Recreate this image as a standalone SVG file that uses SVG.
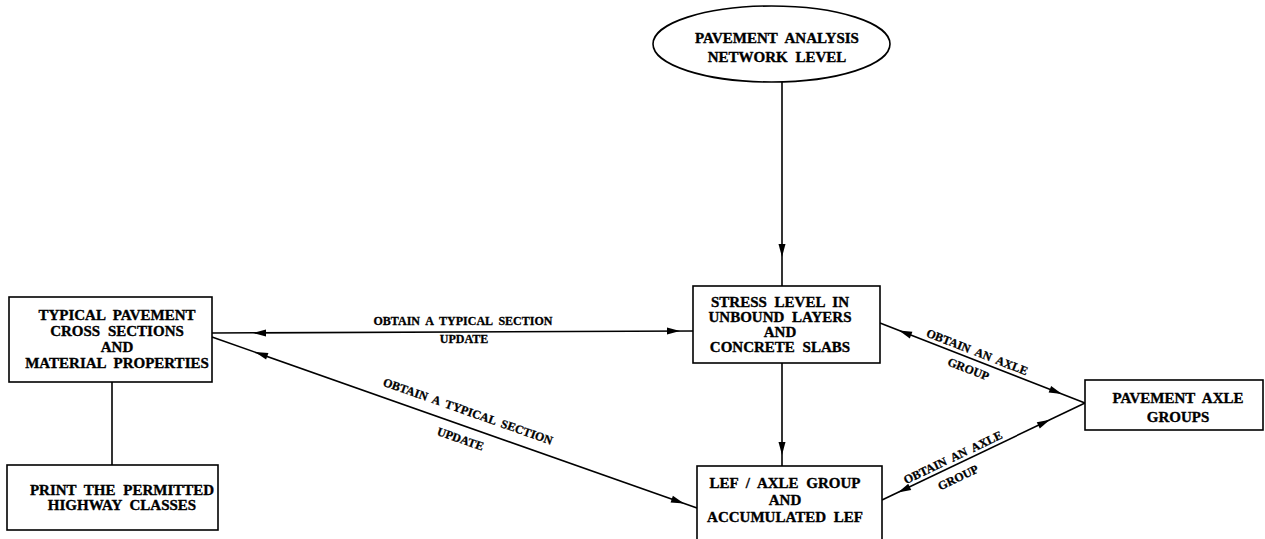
<svg xmlns="http://www.w3.org/2000/svg" width="1265" height="539" viewBox="0 0 1265 539">
<style>
.box{fill:#fff;stroke:#000;stroke-width:1.6}
.ln{fill:none;stroke:#000;stroke-width:1.6}
.t{font-family:"Liberation Serif","DejaVu Serif",serif;font-weight:bold;font-size:15px;text-anchor:middle;word-spacing:4px;fill:#000;stroke:#000;stroke-width:0.35}
.c{font-family:"Liberation Serif","DejaVu Serif",serif;font-weight:bold;font-size:12px;text-anchor:middle;word-spacing:3px;fill:#000;stroke:#000;stroke-width:0.3}
</style>
<defs>
<path id="ah" d="M0,0 L-13,-3.5 L-13,3.5 Z" fill="#000"/>
</defs>
<rect width="1265" height="539" fill="#fff"/>
<g id="connectors">
<line class="ln" x1="782" y1="82" x2="782" y2="286"/>
<use href="#ah" transform="translate(782,257) rotate(90)"/>
<line class="ln" x1="782" y1="363" x2="782" y2="466"/>
<use href="#ah" transform="translate(782,455) rotate(90)"/>
<line class="ln" x1="212" y1="333" x2="693" y2="331"/>
<use href="#ah" transform="translate(253,333) rotate(180)"/>
<use href="#ah" transform="translate(680,331)"/>
<line class="ln" x1="212" y1="337" x2="697" y2="508"/>
<use href="#ah" transform="translate(255,352) rotate(199.4)"/>
<use href="#ah" transform="translate(684,503.4) rotate(19.4)"/>
<line class="ln" x1="880" y1="323" x2="1085" y2="403"/>
<use href="#ah" transform="translate(899,330.4) rotate(201.3)"/>
<use href="#ah" transform="translate(1062,394) rotate(21.3)"/>
<line class="ln" x1="1085" y1="403" x2="882" y2="500"/>
<use href="#ah" transform="translate(898,492.4) rotate(154.5)"/>
<use href="#ah" transform="translate(1050,419.7) rotate(-25.5)"/>
<line class="ln" x1="112" y1="382" x2="112" y2="465"/>
<text class="c" x="463" y="325">OBTAIN A TYPICAL SECTION</text>
<text class="c" x="464" y="343">UPDATE</text>
<g transform="translate(463,425.5) rotate(19.4)">
<text class="c" x="0" y="-11">OBTAIN A TYPICAL SECTION</text>
<text class="c" x="2" y="17.5">UPDATE</text>
</g>
<g transform="translate(974,360) rotate(21.3)">
<text class="c" x="0" y="-4.5">OBTAIN AN AXLE</text>
<text class="c" x="-2" y="14.5">GROUP</text>
</g>
<g transform="translate(957,466) rotate(-25.5)">
<text class="c" x="0" y="-5.5">OBTAIN AN AXLE</text>
<text class="c" x="-4" y="15">GROUP</text>
</g>
</g>
<g id="n-network">
<ellipse class="box" cx="771.5" cy="44" rx="118.5" ry="38"/>
<text class="t" x="777" y="43">PAVEMENT ANALYSIS</text>
<text class="t" x="777" y="62">NETWORK LEVEL</text>
</g>
<g id="n-stress">
<rect class="box" x="693" y="286" width="187" height="77"/>
<text class="t" x="780" y="307">STRESS LEVEL IN</text>
<text class="t" x="780" y="322">UNBOUND LAYERS</text>
<text class="t" x="780" y="337">AND</text>
<text class="t" x="780" y="352">CONCRETE SLABS</text>
</g>
<g id="n-typical">
<rect class="box" x="9" y="297" width="203" height="85"/>
<text class="t" x="117" y="320">TYPICAL PAVEMENT</text>
<text class="t" x="117" y="336">CROSS SECTIONS</text>
<text class="t" x="117" y="352">AND</text>
<text class="t" x="117" y="368">MATERIAL PROPERTIES</text>
</g>
<g id="n-print">
<rect class="box" x="7" y="465" width="211" height="65"/>
<text class="t" x="122" y="495">PRINT THE PERMITTED</text>
<text class="t" x="122" y="510">HIGHWAY CLASSES</text>
</g>
<g id="n-lef">
<rect class="box" x="697" y="466" width="185" height="85"/>
<text class="t" x="785" y="488">LEF / AXLE GROUP</text>
<text class="t" x="785" y="505">AND</text>
<text class="t" x="785" y="522">ACCUMULATED LEF</text>
</g>
<g id="n-axle">
<rect class="box" x="1085" y="380" width="178" height="50"/>
<text class="t" x="1178" y="403">PAVEMENT AXLE</text>
<text class="t" x="1178" y="422">GROUPS</text>
</g>
</svg>
